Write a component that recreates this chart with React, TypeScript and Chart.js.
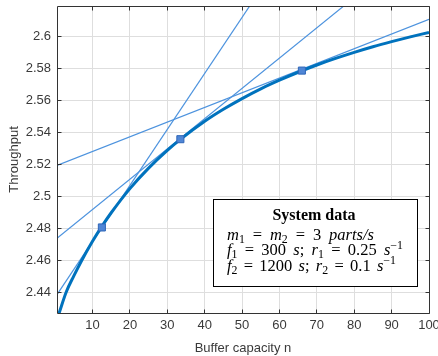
import React, { useEffect, useRef } from 'react';
import { Chart, registerables } from 'chart.js';

Chart.register(...registerables);

// ---- data ----
const curveX = [1, 3, 5, 7, 10, 12.5, 15, 20, 25, 30, 33.5, 40, 45, 50, 55, 60, 66, 70, 75, 80, 85, 90, 95, 100];
const curveY = [2.4265, 2.4403, 2.4502, 2.4594, 2.4719, 2.4812, 2.4897, 2.5048, 2.5176, 2.5287, 2.5356, 2.5469, 2.5544, 2.5611, 2.5672, 2.5726, 2.5785, 2.5821, 2.5862, 2.59, 2.5935, 2.5967, 2.5997, 2.6025];
const markerX = [12.5, 33.5, 66];
const markerY = [2.4805, 2.5357, 2.5786];
const tangentX = [0.5, 100];
const tangent1Y = [2.4385, 2.787];
const tangent2Y = [2.4737, 2.6622];
const tangent3Y = [2.5193, 2.6107];
const xTicks = [10, 20, 30, 40, 50, 60, 70, 80, 90, 100];
const xTickLabels = ['10', '20', '30', '40', '50', '60', '70', '80', '90', '100'];
const yTicks = [2.44, 2.46, 2.48, 2.5, 2.52, 2.54, 2.56, 2.58, 2.6];
const yTickLabels = ['2.44', '2.46', '2.48', '2.5', '2.52', '2.54', '2.56', '2.58', '2.6'];
const xRange = [0.5, 100];
const yRange = [2.427, 2.619];
const xTitle = 'Buffer capacity n';
const yTitle = 'Throughput';
const boxTitle = 'System data';
type Seg = { t: string; it?: boolean; sub?: boolean; sup?: boolean };
const boxLine1: Seg[] = [
  { t: 'm', it: true }, { t: '1', sub: true }, { t: ' = ' }, { t: 'm', it: true }, { t: '2', sub: true },
  { t: ' = 3 ' }, { t: 'parts/s', it: true },
];
const boxLine2: Seg[] = [
  { t: 'f', it: true }, { t: '1', sub: true }, { t: ' = 300 ' }, { t: 's', it: true }, { t: '; ' },
  { t: 'r', it: true }, { t: '1', sub: true }, { t: ' = 0.25 ' }, { t: 's', it: true }, { t: '\u22121', sup: true },
];
const boxLine3: Seg[] = [
  { t: 'f', it: true }, { t: '2', sub: true }, { t: ' = 1200 ' }, { t: 's', it: true }, { t: '; ' },
  { t: 'r', it: true }, { t: '2', sub: true }, { t: ' = 0.1 ' }, { t: 's', it: true }, { t: '\u22121', sup: true },
];

// ---- styles / layout ----
const AXIS = '#333333';
const LABEL = '#3a3a3a';
const GRID = '#dedede';
const SANS = '"Liberation Sans", Arial, sans-serif';
const SERIF = '"Liberation Serif", "Times New Roman", serif';

const alignPx = (p: number) => Math.round(p - 0.5) + 0.5;

const framePlugin = {
  id: 'frame',
  afterDatasetsDraw(chart: any) {
    const { ctx, chartArea: a, scales } = chart;
    const L = alignPx(a.left), R = alignPx(a.right), T = alignPx(a.top), B = alignPx(a.bottom);
    ctx.save();
    ctx.strokeStyle = AXIS;
    ctx.lineWidth = 1;
    ctx.beginPath();
    ctx.rect(L, T, R - L, B - T);
    const tl = 4;
    xTicks.forEach((v) => {
      const px = alignPx(scales.x.getPixelForValue(v));
      ctx.moveTo(px, B); ctx.lineTo(px, B - tl);
      ctx.moveTo(px, T); ctx.lineTo(px, T + tl);
    });
    yTicks.forEach((v) => {
      const py = alignPx(scales.y.getPixelForValue(v));
      ctx.moveTo(L, py); ctx.lineTo(L + tl, py);
      ctx.moveTo(R, py); ctx.lineTo(R - tl, py);
    });
    ctx.stroke();
    ctx.restore();
  },
};

function drawSegs(ctx: CanvasRenderingContext2D, segs: Seg[], x: number, y: number, size: number, targetW: number) {
  const fontFor = (s: Seg) => `${s.it ? 'italic ' : ''}${s.sub || s.sup ? size * 0.72 : size}px ${SERIF}`;
  let natural = 0;
  let spaces = 0;
  segs.forEach((s) => {
    ctx.font = fontFor(s);
    natural += ctx.measureText(s.t).width;
    spaces += (s.t.match(/ /g) || []).length;
  });
  const extra = spaces ? Math.max(0, (targetW - natural) / spaces) : 0;
  let cx = x;
  segs.forEach((s) => {
    ctx.font = fontFor(s);
    const dy = s.sub ? size * 0.2 : s.sup ? -size * 0.38 : 0;
    s.t.split(/( )/).forEach((part) => {
      if (part === ' ') {
        cx += ctx.measureText(' ').width + extra;
      } else if (part) {
        ctx.fillText(part, cx, y + dy);
        cx += ctx.measureText(part).width;
      }
    });
  });
}

const boxPlugin = {
  id: 'infobox',
  afterDraw(chart: any) {
    const { ctx } = chart;
    ctx.save();
    ctx.fillStyle = '#ffffff';
    ctx.fillRect(213, 199, 205, 88);
    ctx.strokeStyle = '#000000';
    ctx.lineWidth = 1;
    ctx.strokeRect(213.5, 199.5, 204, 87);
    ctx.fillStyle = '#000000';
    ctx.textBaseline = 'alphabetic';
    ctx.textAlign = 'center';
    ctx.font = `bold 16px ${SERIF}`;
    ctx.fillText(boxTitle, 314, 219.5);
    ctx.textAlign = 'left';
    drawSegs(ctx, boxLine1, 227, 239.5, 16.5, 147);
    drawSegs(ctx, boxLine2, 227, 255, 16.5, 176);
    drawSegs(ctx, boxLine3, 227, 270.5, 16.5, 169);
    ctx.restore();
  },
};

export default function App() {
  const ref = useRef<HTMLCanvasElement>(null);
  useEffect(() => {
    const canvas = ref.current;
    if (!canvas) return;
    const chart = new Chart(canvas, {
      type: 'scatter',
      data: {
        datasets: [
          {
            data: markerX.map((x, i) => ({ x, y: markerY[i] })),
            showLine: false,
            pointStyle: 'rect',
            pointRadius: 5,
            backgroundColor: '#4f86d6',
            borderColor: '#2f66b8',
            borderWidth: 1,
            order: 0,
          },
          {
            data: curveX.map((x, i) => ({ x, y: curveY[i] })),
            showLine: true,
            borderColor: '#0072bd',
            borderWidth: 3,
            pointRadius: 0,
            cubicInterpolationMode: 'monotone',
            order: 1,
          },
          {
            data: tangentX.map((x, i) => ({ x, y: tangent1Y[i] })),
            showLine: true,
            borderColor: '#4d93de',
            borderWidth: 1.2,
            pointRadius: 0,
            order: 2,
          },
          {
            data: tangentX.map((x, i) => ({ x, y: tangent2Y[i] })),
            showLine: true,
            borderColor: '#4d93de',
            borderWidth: 1.2,
            pointRadius: 0,
            order: 2,
          },
          {
            data: tangentX.map((x, i) => ({ x, y: tangent3Y[i] })),
            showLine: true,
            borderColor: '#4d93de',
            borderWidth: 1.2,
            pointRadius: 0,
            order: 2,
          },
        ],
      },
      options: {
        animation: false,
        responsive: false,
        devicePixelRatio: 1,
        events: [],
        layout: { padding: { left: 0, right: 9, top: 3, bottom: 0 } },
        plugins: { legend: { display: false }, tooltip: { enabled: false } },
        scales: {
          x: {
            type: 'linear',
            min: xRange[0],
            max: xRange[1],
            afterBuildTicks: (s: any) => { s.ticks = xTicks.map((v) => ({ value: v })); },
            afterFit: (s: any) => { s.height = 43; s.paddingLeft = 0; s.paddingRight = 0; },
            ticks: {
              autoSkip: false,
              maxRotation: 0,
              padding: 5,
              color: LABEL,
              font: { family: SANS, size: 13 },
              callback: (v: any) => xTickLabels[xTicks.indexOf(v)] ?? '',
            },
            grid: { color: GRID, drawTicks: false },
            border: { display: false },
            title: { display: true, text: xTitle, color: LABEL, font: { family: SANS, size: 13 }, padding: { top: 3, bottom: 0 } },
          },
          y: {
            type: 'linear',
            min: yRange[0],
            max: yRange[1],
            afterBuildTicks: (s: any) => { s.ticks = yTicks.map((v) => ({ value: v })); },
            afterFit: (s: any) => { s.width = 57; s.paddingTop = 0; s.paddingBottom = 0; },
            ticks: {
              autoSkip: false,
              padding: 6,
              color: LABEL,
              font: { family: SANS, size: 13 },
              callback: (v: any) => yTickLabels[yTicks.indexOf(v)] ?? '',
            },
            grid: { color: GRID, drawTicks: false },
            border: { display: false },
            title: { display: true, text: yTitle, color: LABEL, font: { family: SANS, size: 13 }, padding: { top: 7, bottom: 0 } },
          },
        },
      },
      plugins: [framePlugin, boxPlugin],
    } as any);
    return () => chart.destroy();
  }, []);
  return (
    <div style={{ position: 'fixed', left: 0, top: 0, width: 438, height: 356, background: '#fff' }}>
      <canvas ref={ref} width={438} height={356} />
    </div>
  );
}
